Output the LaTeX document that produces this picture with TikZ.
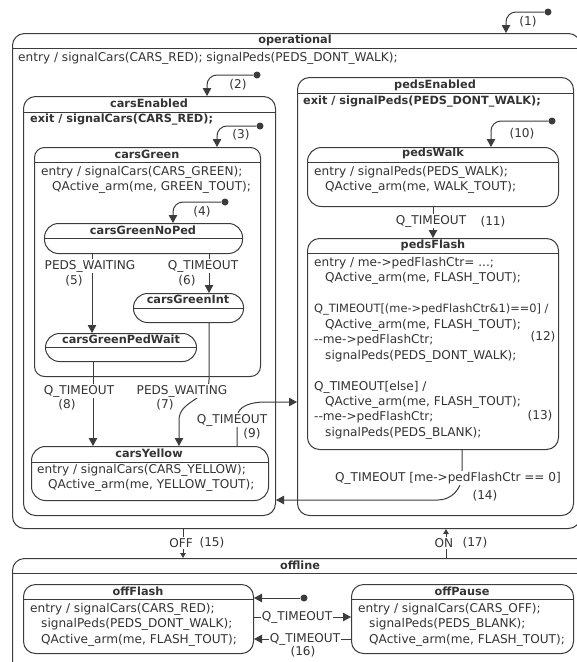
\documentclass[tikz,border=0pt]{standalone}
\usepackage{fontspec}
\setmainfont{DejaVu Sans}
\usetikzlibrary{arrows.meta}

\definecolor{ink}{HTML}{333333}
\definecolor{edge}{HTML}{3C3C3C}

\begin{document}
\begin{tikzpicture}[
			x = 1pt, y = -1pt,
			every node/.style = {text = ink, inner sep = 0pt},
			state/.style = {draw = edge, line width = 1pt, rounded corners = 12pt, anchor = north west},
			simple/.style = {state, rounded corners = 14pt},
			sep/.style = {draw = edge, line width = 1pt},
			title/.style = {font = \fontsize{11.3}{14}\selectfont\bfseries},
			body/.style = {font = \fontsize{12.1}{15.3}\selectfont, align = left, anchor = north west},
			act/.style = {body, font = \fontsize{11.3}{14}\selectfont\bfseries},
			lbl/.style = {font = \fontsize{12.1}{15.3}\selectfont, fill = white, inner sep = 1pt},
			num/.style = {font = \fontsize{12.1}{15.3}\selectfont},
			trans/.style = {draw = edge, line width = 1pt, -{Triangle[length = 8pt, width = 8.5pt]}},
			short/.style = {draw = edge, line width = 1pt, -{Triangle[length = 5pt, width = 5.5pt]}},
			init/.style = {circle, fill = edge, minimum size = 7pt}
		]
		\useasboundingbox (0,0) rectangle (577,662);

		% top level states
		\node[state, minimum width = 568, minimum height = 495] (op) at (12,33) {};
		\draw[sep] (op.west |- 0,48) -- (op.east |- 0,48);
		\node[title] (optitle) at (295,40) {operational};
		\node[body] (opentry) at (18,52) {entry / signalCars(CARS\_RED); signalPeds(PEDS\_DONT\_WALK);};

		\node[state, minimum width = 576, minimum height = 150] (off) at (12,558) {};
		\draw[sep] (off.west |- 0,573) -- (off.east |- 0,573);
		\node[title] (offtitle) at (300,565) {offline};

		% cars
		\node[state, minimum width = 252, minimum height = 419] (ce) at (23,96) {};
		\draw[sep] (ce.west |- 0,112) -- (ce.east |- 0,112);
		\node[title] (cetitle) at (149,103) {carsEnabled};
		\node[act] (ceexit) at (30,114) {exit / signalCars(CARS\_RED);};

		\node[state, rounded corners = 10pt, minimum width = 226, minimum height = 229] (cg) at (34,147) {};
		\draw[sep] (cg.west |- 0,162) -- (cg.east |- 0,162);
		\node[title] (cgtitle) at (147,154) {carsGreen};
		\node[body] (cgentry) at (41,166) {entry / signalCars(CARS\_GREEN);\\\hspace*{11pt}QActive\_arm(me, GREEN\_TOUT);};

		\node[simple, minimum width = 198, minimum height = 30] (cgnp) at (44,223) {};
		\draw[sep] (cgnp.west |- 0,238) -- (cgnp.east |- 0,238);
		\node[title] (cgnptitle) at (143,230) {carsGreenNoPed};

		\node[simple, minimum width = 110, minimum height = 29] (cgi) at (133,293) {};
		\draw[sep] (cgi.west |- 0,308) -- (cgi.east |- 0,308);
		\node[title] (cgititle) at (188,299) {carsGreenInt};

		\node[simple, minimum width = 151, minimum height = 28] (cgpw) at (45,333) {};
		\draw[sep] (cgpw.west |- 0,347) -- (cgpw.east |- 0,347);
		\node[title] (cgpwtitle) at (121,339) {carsGreenPedWait};

		\node[simple, minimum width = 237, minimum height = 54] (cy) at (31,446) {};
		\draw[sep] (cy.west |- 0,462) -- (cy.east |- 0,462);
		\node[title] (cytitle) at (149,453) {carsYellow};
		\node[body] (cyentry) at (37,464) {entry / signalCars(CARS\_YELLOW);\\\hspace*{11pt}QActive\_arm(me, YELLOW\_TOUT);};

		% peds
		\node[state, minimum width = 276, minimum height = 438] (pe) at (297,77) {};
		\draw[sep] (pe.west |- 0,93) -- (pe.east |- 0,93);
		\node[title] (petitle) at (435,85) {pedsEnabled};
		\node[act] (peexit) at (303,96) {exit / signalPeds(PEDS\_DONT\_WALK);};

		\node[simple, minimum width = 251, minimum height = 59] (pw) at (307,147) {};
		\draw[sep] (pw.west |- 0,162) -- (pw.east |- 0,162);
		\node[title] (pwtitle) at (433,153) {pedsWalk};
		\node[body] (pwentry) at (314,166) {entry / signalPeds(PEDS\_WALK);\\\hspace*{11pt}QActive\_arm(me, WALK\_TOUT);};

		\node[state, minimum width = 251, minimum height = 211] (pf) at (307,238) {};
		\draw[sep] (pf.west |- 0,253) -- (pf.east |- 0,253);
		\node[title] (pftitle) at (433,245) {pedsFlash};
		\node[body, font = \fontsize{12.1}{15.45}\selectfont] (pfentry) at (314,257) {entry / me->pedFlashCtr= ...;\\
			\hspace*{11pt}QActive\_arm(me, FLASH\_TOUT);\\[15.45pt]
			{\fontsize{11.4}{15.45}\selectfont Q\_TIMEOUT[(me->pedFlashCtr\&1)==0] /}\\
			\hspace*{11pt}QActive\_arm(me, FLASH\_TOUT);\\
			-{}-me->pedFlashCtr;\\
			\hspace*{11pt}signalPeds(PEDS\_DONT\_WALK);\\[15.45pt]
			Q\_TIMEOUT[else] /\\
			\hspace*{11pt}QActive\_arm(me, FLASH\_TOUT);\\
			-{}-me->pedFlashCtr;\\
			\hspace*{11pt}signalPeds(PEDS\_BLANK);};
		\node[num] (n12) at (543,337) {(12)};
		\node[num] (n13) at (540,416) {(13)};

		% offline
		\node[state, minimum width = 230, minimum height = 69] (ofl) at (23,584) {};
		\draw[sep] (ofl.west |- 0,599) -- (ofl.east |- 0,599);
		\node[title] (ofltitle) at (138,591) {offFlash};
		\node[body] (oflentry) at (30,603) {entry / signalCars(CARS\_RED);\\\hspace*{11pt}signalPeds(PEDS\_DONT\_WALK);\\\hspace*{11pt}QActive\_arm(me, FLASH\_TOUT);};

		\node[state, minimum width = 222, minimum height = 69] (opa) at (351,584) {};
		\draw[sep] (opa.west |- 0,599) -- (opa.east |- 0,599);
		\node[title] (opatitle) at (462,591) {offPause};
		\node[body] (opaentry) at (358,603) {entry / signalCars(CARS\_OFF);\\\hspace*{11pt}signalPeds(PEDS\_BLANK);\\\hspace*{11pt}QActive\_arm(me, FLASH\_TOUT);};

		% initial transitions
		\node[init] (i1) at (548,12) {};
		\draw[trans, rounded corners = 10pt] (i1) -| (op.north -| 506,0);
		\node[num] (n1) at (528,22) {(1)};
		\node[init] (i2) at (257,75) {};
		\draw[trans, rounded corners = 10pt] (i2) -| (ce.north -| 207,0);
		\node[num] (n2) at (238,85) {(2)};
		\node[init] (i3) at (260,126) {};
		\draw[trans, rounded corners = 10pt] (i3) -| (cg.north -| 217,0);
		\node[num] (n3) at (241,135) {(3)};
		\node[init] (i4) at (225,202) {};
		\draw[trans, rounded corners = 10pt] (i4) -| (cgnp.north -| 173,0);
		\node[num] (n4) at (202,212) {(4)};
		\node[init] (i10) at (552,121) {};
		\draw[trans, rounded corners = 10pt] (i10) -| (pw.north -| 491,0);
		\node[num] (n10) at (522,134) {(10)};
		\node[init] (i16) at (304,598) {};
		\draw[trans] (i16) -- (ofl.east |- 0,598);

		% transitions
		\draw[trans] (cgnp.south -| 92,0) -- (cgpw.north -| 92,0);
		\draw[trans] (cgnp.south -| 209,0) -- (cgi.north -| 209,0);
		\draw[trans] (cgpw.south -| 93,0) -- (cy.north -| 93,0);
		\draw[trans] (cgi.south -| 209,0) -- (209,380) to[out = -90, in = 90] (179,420) -- (cy.north -| 179,0);
		\draw[trans] (cy.north -| 237,0) -- (237,418) to[out = 90, in = 180] (265,402) -- (pe.west |- 0,402);
		\draw[trans] (pw.south) -- (pf.north);
		\draw[trans] (pf.south -| 462,0) -- (462,475) to[out = -90, in = 0] (438,500) -- (ce.east |- 0,500);
		\draw[short] (op.south -| 183,0) -- (off.north -| 183,0);
		\draw[short] (off.north -| 446,0) -- (op.south -| 446,0);
		\draw[trans] (ofl.east |- 0,617) -- (opa.west |- 0,617);
		\draw[trans] (opa.west |- 0,639) -- (ofl.east |- 0,639);

		% transition labels
		\node[lbl] (t5) at (90,266) {PEDS\_WAITING};
		\node[num] (n5) at (74,281) {(5)};
		\node[lbl] (t6) at (203,266) {Q\_TIMEOUT};
		\node[num] (n6) at (187,281) {(6)};
		\node[lbl] (t8) at (79,391) {Q\_TIMEOUT};
		\node[num] (n8) at (67,405) {(8)};
		\node[lbl] (t7) at (182,391) {PEDS\_WAITING};
		\node[num] (n7) at (165,405) {(7)};
		\node[lbl] (t9) at (232,420) {Q\_TIMEOUT};
		\node[num] (n9) at (252,434) {(9)};
		\node[lbl] (t11) at (431,221) {Q\_TIMEOUT};
		\node[num] (n11) at (493,222) {(11)};
		\node[lbl] (t14) at (448,478) {Q\_TIMEOUT [me->pedFlashCtr == 0]};
		\node[num] (n14) at (485,496) {(14)};
		\node[lbl] (t15) at (181,543) {OFF};
		\node[num] (n15) at (212,543) {(15)};
		\node[lbl] (t17) at (444,543) {ON};
		\node[num] (n17) at (475,543) {(17)};
		\node[lbl] (t16a) at (297,617) {Q\_TIMEOUT};
		\node[lbl] (t16b) at (305,639) {Q\_TIMEOUT};
		\node[num] (n16) at (303,652) {(16)};
	\end{tikzpicture}
\end{document}
